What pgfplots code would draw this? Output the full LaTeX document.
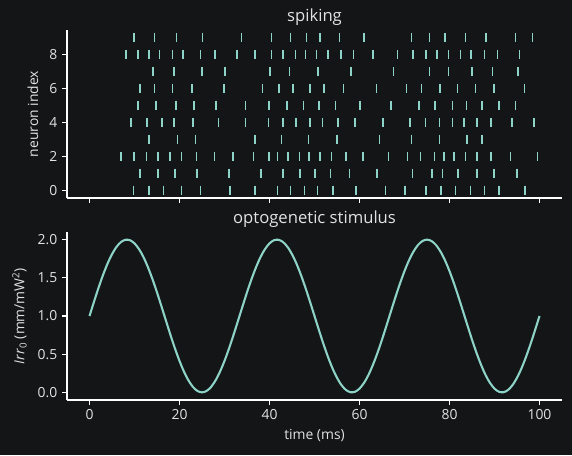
\documentclass[border=0pt]{standalone}
\usepackage{pgfplots}
\pgfplotsset{compat=1.18}
\usepackage{fontspec}
\setmainfont{Open Sans}
\definecolor{bg}{HTML}{131516}
\definecolor{fg}{HTML}{E2E2E2}
\definecolor{spk}{HTML}{8DD3C7}
\pgfplotsset{mystyle/.style={
  width=356.4pt, height=120.96pt, scale only axis,
  xmin=-5, xmax=105,
  axis x line*=bottom, axis y line*=left,
  axis line style={white, line width=0.8pt, -},
  tick style={white, line width=0.8pt},
  tick align=outside, major tick length=3.5pt,
  every tick label/.append style={font=\fontsize{10}{12}\selectfont, text=fg},
  label style={font=\fontsize{10}{12}\selectfont, text=fg},
  ylabel style={xshift=0pt, yshift=1pt},
  title style={font=\fontsize{12}{14}\selectfont, text=fg, at={(0.5,1)}, anchor=base},
  /pgf/number format/assume math mode=true,
  xtick={0,20,...,100},
},
spkmark/.style={only marks, mark=|, mark size=3.4pt, color=spk, mark options={line width=0.9pt, color=spk}}}
\begin{document}
\begin{tikzpicture}
\fill[bg] (0,0) rectangle (411.84pt,327.6pt);
\useasboundingbox (0,0) rectangle (411.84pt,327.6pt);
\begin{axis}[mystyle, at={(48.24pt,185.04pt)}, anchor=south west,
  ymin=-0.45, ymax=9.45, ytick={0,2,4,6,8}, xticklabels={},
  ylabel={neuron index}, title={spiking}]
\addplot[spkmark] coordinates {(9.7,0)(13.2,0)(16.4,0)(20.4,0)(24.6,0)(31.2,0)(36.8,0)(41.7,0)(44.6,0)(47.7,0)(50.6,0)(54.1,0)(59.2,0)(65.7,0)(70.1,0)(74.8,0)(78.1,0)(81.4,0)(84.6,0)(87.7,0)(91.0,0)(96.8,0)};
\addplot[spkmark] coordinates {(11.2,1)(15.2,1)(19.0,1)(23.9,1)(31.0,1)(38.1,1)(43.0,1)(46.8,1)(50.1,1)(53.5,1)(57.7,1)(63.9,1)(71.7,1)(76.1,1)(78.4,1)(81.9,1)(86.1,1)(89.9,1)(95.0,1)};
\addplot[spkmark] coordinates {(7.0,2)(9.9,2)(12.6,2)(15.2,2)(17.9,2)(20.4,2)(23.7,2)(27.7,2)(31.9,2)(36.4,2)(39.9,2)(41.7,2)(44.1,2)(46.6,2)(48.8,2)(51.2,2)(53.7,2)(57.0,2)(60.8,2)(66.4,2)(70.6,2)(73.5,2)(76.6,2)(78.8,2)(81.0,2)(83.5,2)(86.1,2)(89.2,2)(93.5,2)(99.5,2)};
\addplot[spkmark] coordinates {(13.2,3)(19.5,3)(23.5,3)(36.8,3)(42.6,3)(48.6,3)(55.0,3)(64.4,3)(71.5,3)(77.7,3)(83.9,3)(87.2,3)};
\addplot[spkmark] coordinates {(9.2,4)(12.8,4)(16.1,4)(18.8,4)(23.0,4)(28.6,4)(34.6,4)(39.7,4)(43.0,4)(45.9,4)(49.0,4)(51.7,4)(55.2,4)(59.0,4)(65.2,4)(71.2,4)(74.6,4)(77.7,4)(80.6,4)(83.2,4)(86.1,4)(89.2,4)(93.9,4)(98.8,4)};
\addplot[spkmark] coordinates {(10.8,5)(14.8,5)(19.2,5)(23.2,5)(28.1,5)(34.6,5)(39.9,5)(43.9,5)(47.5,5)(51.0,5)(54.6,5)(60.1,5)(67.0,5)(73.2,5)(76.8,5)(80.6,5)(83.7,5)(87.2,5)(91.0,5)(94.6,5)};
\addplot[spkmark] coordinates {(11.2,6)(14.4,6)(18.4,6)(22.8,6)(29.9,6)(38.4,6)(42.1,6)(45.2,6)(49.0,6)(52.1,6)(56.4,6)(63.7,6)(70.4,6)(73.7,6)(77.9,6)(81.7,6)(85.7,6)(89.9,6)(96.6,6)};
\addplot[spkmark] coordinates {(14.1,7)(18.8,7)(25.0,7)(30.1,7)(40.1,7)(44.4,7)(50.8,7)(58.1,7)(67.5,7)(75.5,7)(79.7,7)(85.0,7)(89.5,7)(95.2,7)};
\addplot[spkmark] coordinates {(8.1,8)(10.8,8)(13.2,8)(15.5,8)(18.4,8)(20.8,8)(24.6,8)(27.9,8)(32.8,8)(36.8,8)(40.4,8)(43.0,8)(45.7,8)(48.0,8)(50.4,8)(53.0,8)(55.9,8)(58.6,8)(63.0,8)(68.4,8)(71.9,8)(74.8,8)(77.2,8)(79.7,8)(82.4,8)(84.8,8)(87.7,8)(90.6,8)(95.5,8)};
\addplot[spkmark] coordinates {(9.9,9)(14.4,9)(19.3,9)(25.1,9)(33.7,9)(40.4,9)(44.6,9)(48.2,9)(51.2,9)(55.5,9)(61.0,9)(71.5,9)(75.5,9)(79.0,9)(83.5,9)(88.1,9)(94.6,9)(98.4,9)};
\end{axis}
\begin{axis}[mystyle, at={(48.24pt,39.6pt)}, anchor=south west,
  ymin=-0.1, ymax=2.1, ytick={0,0.5,...,2},
  yticklabel style={/pgf/number format/fixed, /pgf/number format/fixed zerofill, /pgf/number format/precision=1},
  xlabel={time (ms)}, ylabel={\textit{Irr}\textsubscript{0} (mm/mW\textsuperscript{2})},
  title={optogenetic stimulus}]
\addplot[spk, line width=1.5pt, smooth] coordinates {
(0,1.000)(1,1.187)(2,1.368)(3,1.536)(4,1.685)(5,1.809)(6,1.905)(7,1.969)(8,1.998)(9,1.992)
(10,1.951)(11,1.876)(12,1.771)(13,1.637)(14,1.482)(15,1.309)(16,1.125)(17,0.937)(18,0.751)(19,0.574)
(20,0.412)(21,0.271)(22,0.156)(23,0.070)(24,0.018)(25,0.000)(26,0.018)(27,0.070)(28,0.156)(29,0.271)
(30,0.412)(31,0.574)(32,0.751)(33,0.937)(34,1.125)(35,1.309)(36,1.482)(37,1.637)(38,1.771)(39,1.876)
(40,1.951)(41,1.992)(42,1.998)(43,1.969)(44,1.905)(45,1.809)(46,1.685)(47,1.536)(48,1.368)(49,1.187)
(50,1.000)(51,0.813)(52,0.632)(53,0.464)(54,0.315)(55,0.191)(56,0.095)(57,0.031)(58,0.002)(59,0.008)
(60,0.049)(61,0.124)(62,0.229)(63,0.363)(64,0.518)(65,0.691)(66,0.875)(67,1.063)(68,1.249)(69,1.426)
(70,1.588)(71,1.729)(72,1.844)(73,1.930)(74,1.982)(75,2.000)(76,1.982)(77,1.930)(78,1.844)(79,1.729)
(80,1.588)(81,1.426)(82,1.249)(83,1.063)(84,0.875)(85,0.691)(86,0.518)(87,0.363)(88,0.229)(89,0.124)
(90,0.049)(91,0.008)(92,0.002)(93,0.031)(94,0.095)(95,0.191)(96,0.315)(97,0.464)(98,0.632)(99,0.813)
(100,1.000)};
\end{axis}
\end{tikzpicture}
\end{document}
